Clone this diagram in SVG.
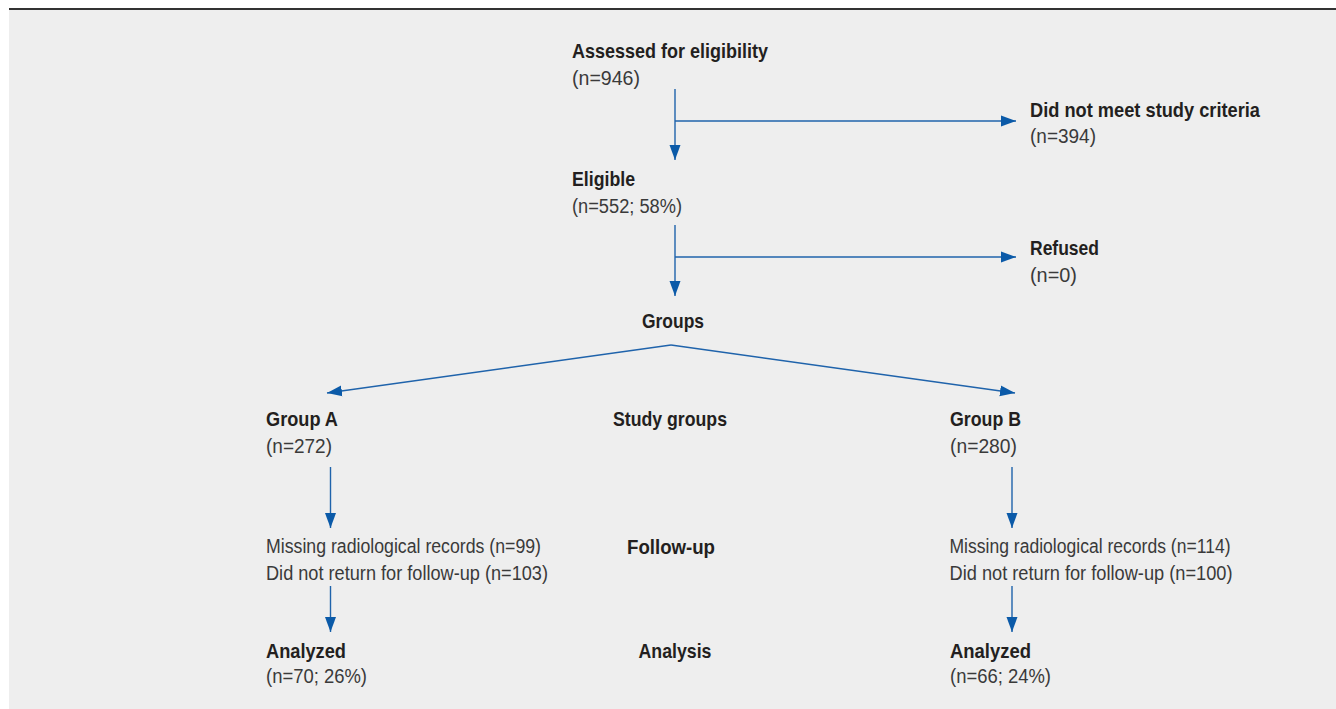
<svg xmlns="http://www.w3.org/2000/svg" width="1336" height="709" viewBox="0 0 1336 709">
  <style>
    .b { font-family: "Liberation Sans", Arial, sans-serif; font-weight: bold; font-size: 21px; fill: #231f20; }
    .r { font-family: "Liberation Sans", Arial, sans-serif; font-size: 19.5px; fill: #3a3a3a; }
    .c { stroke: #1f63ab; stroke-width: 1.4; fill: none; }
  </style>
  <defs>
    <marker id="ah" markerUnits="userSpaceOnUse" markerWidth="16" markerHeight="12" refX="15" refY="6" orient="auto">
      <path d="M0,0.5 L15,6 L0,11.5 Z" fill="#0b5aa8"/>
    </marker>
  </defs>
  <rect x="0" y="0" width="1336" height="709" fill="#ffffff"/>
  <rect x="9" y="9" width="1327" height="700" fill="#eeeeee"/>
  <line x1="9" y1="9" x2="1336" y2="9" stroke="#333333" stroke-width="2"/>

  <g id="connectors">
    <line class="c" x1="675" y1="89" x2="675" y2="160" marker-end="url(#ah)"/>
    <line class="c" x1="675" y1="121" x2="1016" y2="121" marker-end="url(#ah)"/>
    <line class="c" x1="675" y1="225" x2="675" y2="296" marker-end="url(#ah)"/>
    <line class="c" x1="675" y1="257" x2="1016" y2="257" marker-end="url(#ah)"/>
    <line class="c" x1="671" y1="345" x2="327" y2="393" marker-end="url(#ah)"/>
    <line class="c" x1="671" y1="345" x2="1015" y2="393" marker-end="url(#ah)"/>
    <line class="c" x1="330.5" y1="467" x2="330.5" y2="528" marker-end="url(#ah)"/>
    <line class="c" x1="1012" y1="467" x2="1012" y2="528" marker-end="url(#ah)"/>
    <line class="c" x1="330.5" y1="586" x2="330.5" y2="632" marker-end="url(#ah)"/>
    <line class="c" x1="1012" y1="586" x2="1012" y2="632" marker-end="url(#ah)"/>
  </g>

  <g id="assessed">
    <text class="b" x="572" y="58" textLength="196" lengthAdjust="spacingAndGlyphs">Assessed for eligibility</text>
    <text class="r" x="572" y="85" textLength="68" lengthAdjust="spacingAndGlyphs">(n=946)</text>
  </g>
  <g id="excluded">
    <text class="b" x="1030" y="117" textLength="230" lengthAdjust="spacingAndGlyphs">Did not meet study criteria</text>
    <text class="r" x="1030" y="143" textLength="66" lengthAdjust="spacingAndGlyphs">(n=394)</text>
  </g>
  <g id="eligible">
    <text class="b" x="572" y="186" textLength="63" lengthAdjust="spacingAndGlyphs">Eligible</text>
    <text class="r" x="572" y="213" textLength="110" lengthAdjust="spacingAndGlyphs">(n=552; 58%)</text>
  </g>
  <g id="refused">
    <text class="b" x="1030" y="255" textLength="69" lengthAdjust="spacingAndGlyphs">Refused</text>
    <text class="r" x="1030" y="282" textLength="47" lengthAdjust="spacingAndGlyphs">(n=0)</text>
  </g>
  <g id="groups">
    <text class="b" x="642" y="328" textLength="62" lengthAdjust="spacingAndGlyphs">Groups</text>
  </g>
  <g id="groupA">
    <text class="b" x="266" y="426" textLength="72" lengthAdjust="spacingAndGlyphs">Group A</text>
    <text class="r" x="266" y="453" textLength="66" lengthAdjust="spacingAndGlyphs">(n=272)</text>
  </g>
  <g id="studygroups">
    <text class="b" x="613" y="426" textLength="114" lengthAdjust="spacingAndGlyphs">Study groups</text>
  </g>
  <g id="groupB">
    <text class="b" x="950" y="426" textLength="71" lengthAdjust="spacingAndGlyphs">Group B</text>
    <text class="r" x="950" y="453" textLength="67" lengthAdjust="spacingAndGlyphs">(n=280)</text>
  </g>
  <g id="followupA">
    <text class="r" x="266" y="553" textLength="275" lengthAdjust="spacingAndGlyphs">Missing radiological records (n=99)</text>
    <text class="r" x="266" y="580" textLength="282" lengthAdjust="spacingAndGlyphs">Did not return for follow-up (n=103)</text>
  </g>
  <g id="followup">
    <text class="b" x="627" y="554" textLength="88" lengthAdjust="spacingAndGlyphs">Follow-up</text>
  </g>
  <g id="followupB">
    <text class="r" x="949.5" y="553" textLength="281" lengthAdjust="spacingAndGlyphs">Missing radiological records (n=114)</text>
    <text class="r" x="949.5" y="580" textLength="283" lengthAdjust="spacingAndGlyphs">Did not return for follow-up (n=100)</text>
  </g>
  <g id="analyzedA">
    <text class="b" x="266" y="658" textLength="80" lengthAdjust="spacingAndGlyphs">Analyzed</text>
    <text class="r" x="266" y="683" textLength="101" lengthAdjust="spacingAndGlyphs">(n=70; 26%)</text>
  </g>
  <g id="analysis">
    <text class="b" x="638.5" y="658" textLength="73" lengthAdjust="spacingAndGlyphs">Analysis</text>
  </g>
  <g id="analyzedB">
    <text class="b" x="950" y="658" textLength="81" lengthAdjust="spacingAndGlyphs">Analyzed</text>
    <text class="r" x="950" y="683" textLength="101" lengthAdjust="spacingAndGlyphs">(n=66; 24%)</text>
  </g>
</svg>
